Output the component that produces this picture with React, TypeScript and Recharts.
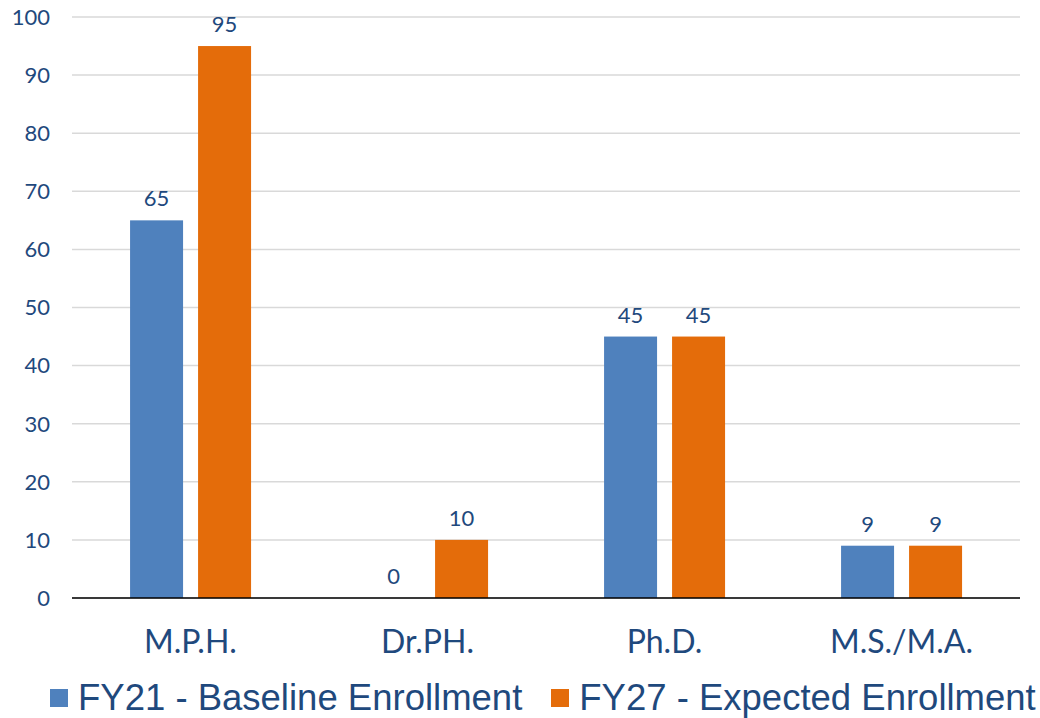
import React from 'react';
import {
  BarChart,
  Bar,
  XAxis,
  YAxis,
  CartesianGrid,
  Legend,
} from 'recharts';

const categories = ['M.P.H.', 'Dr.PH.', 'Ph.D.', 'M.S./M.A.'];
const baseline = [65, 0, 45, 9];
const expected = [95, 10, 45, 9];
const yTicks = [0, 10, 20, 30, 40, 50, 60, 70, 80, 90, 100];

const seriesNames = ['FY21 - Baseline Enrollment', 'FY27 - Expected Enrollment'];
const colors = ['#4F81BD', '#E46C0A'];
const textColor = '#1F497D';
const calibriLike = 'Lato, "Open Sans", sans-serif';

const data = categories.map((name, i) => ({
  name,
  baseline: baseline[i],
  expected: expected[i],
}));

function renderLegend() {
  return (
    <div
      style={{
        display: 'flex',
        alignItems: 'center',
        height: 50,
        paddingLeft: 50,
        fontFamily: '"Liberation Sans", Arial, sans-serif',
        fontSize: 36.5,
        color: textColor,
        whiteSpace: 'nowrap',
        boxSizing: 'border-box',
        paddingTop: 10,
      }}
    >
      {seriesNames.map((label, i) => (
        <div
          key={label}
          style={{ display: 'flex', alignItems: 'center', marginRight: 29 }}
        >
          <span
            style={{
              display: 'inline-block',
              width: 18,
              height: 18,
              backgroundColor: colors[i],
              marginRight: 10,
            }}
          />
          <span>{label}</span>
        </div>
      ))}
    </div>
  );
}

// bar + value label drawn together, so the zero-height bar still gets its "0"
function barWithLabel(props: any) {
  const { x, y, width, height, fill, value } = props;
  const v = Array.isArray(value) ? value[1] - value[0] : value;
  return (
    <g>
      {height > 0 && <rect x={x} y={y} width={width} height={height} fill={fill} />}
      <text
        x={x + width / 2}
        y={y - 14}
        textAnchor="middle"
        fill={textColor}
        fontSize={22}
        fontFamily={calibriLike}
      >
        {v}
      </text>
    </g>
  );
}

export default function App(): JSX.Element {
  return (
    <div style={{ position: 'absolute', left: 0, top: 0, background: '#fff' }}>
      <BarChart
        width={1040}
        height={718}
        data={data}
        margin={{ top: 17, right: 20, bottom: 0, left: 0 }}
        barCategoryGap="24.5%"
        barGap={15}
      >
        <CartesianGrid vertical={false} stroke="#D9D9D9" strokeWidth={1.5} />
        <XAxis
          dataKey="name"
          axisLine={{ stroke: '#000', strokeWidth: 1.5 }}
          tickLine={false}
          tickSize={0}
          tickMargin={32}
          height={70}
          tick={{ fill: textColor, fontSize: 32, fontFamily: calibriLike }}
        />
        <YAxis
          domain={[0, 100]}
          ticks={yTicks}
          width={72}
          axisLine={false}
          tickLine={false}
          tickSize={0}
          tickMargin={22}
          tick={{ fill: textColor, fontSize: 22, fontFamily: calibriLike }}
        />
        <Legend verticalAlign="bottom" height={50} content={renderLegend} />
        <Bar
          dataKey="baseline"
          fill={colors[0]}
          isAnimationActive={false}
          shape={barWithLabel}
        />
        <Bar
          dataKey="expected"
          fill={colors[1]}
          isAnimationActive={false}
          shape={barWithLabel}
        />
      </BarChart>
    </div>
  );
}
